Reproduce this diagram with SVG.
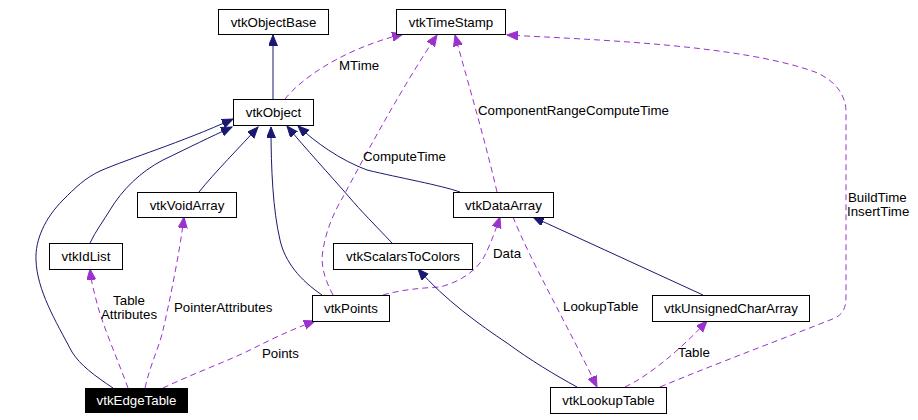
<svg xmlns="http://www.w3.org/2000/svg" width="918" height="420" viewBox="0 0 918 420">
<style>
  .box { fill: #ffffff; stroke: #000000; stroke-width: 1; }
  .lbl { font-family: "Liberation Sans", Arial, sans-serif; font-size: 13.3px; fill: #000000; text-anchor: middle; }
  .elbl { font-family: "Liberation Sans", Arial, sans-serif; font-size: 13.3px; fill: #000000; }
  .inh { fill: none; stroke: #191970; stroke-width: 1; marker-end: url(#an); }
  .use { fill: none; stroke: #9a32cd; stroke-width: 1; stroke-dasharray: 6,4; marker-end: url(#ap); }
</style>
<defs>
  <marker id="an" markerUnits="userSpaceOnUse" markerWidth="12" markerHeight="10" refX="11" refY="4.5" orient="auto">
    <path d="M0,0 L11,4.5 L0,9 z" fill="#191970" stroke="#191970" stroke-width="1"/>
  </marker>
  <marker id="ap" markerUnits="userSpaceOnUse" markerWidth="12" markerHeight="10" refX="11" refY="4.5" orient="auto">
    <path d="M0,0 L11,4.5 L0,9 z" fill="#9a32cd" stroke="#9a32cd" stroke-width="1"/>
  </marker>
</defs>
<rect width="918" height="420" fill="#ffffff"/>
<g id="connectors">
  <path class="inh" d="M273,99 L273,35"/>
  <path class="use" d="M285,99 C300,80 340,50 403,34"/>
  <path class="inh" d="M113,388 C95,376 80,365 72,352 C55,320 37,290 36,260 C35,240 45,218 63,200 C75,188 85,178 100,171 C130,158 180,143 233,119"/>
  <path class="inh" d="M90,243 C95,232 104,220 110,210 C122,190 140,172 163,160 C190,147 210,137 232,127"/>
  <path class="inh" d="M199,192 C215,172 240,147 258,127"/>
  <path class="inh" d="M322,295 C300,280 285,262 280,240 C273,210 271,170 271,127"/>
  <path class="inh" d="M392,243 C375,225 360,210 350,198 C330,175 305,148 287,126"/>
  <path class="inh" d="M460,192 C440,185 400,178 367,170 C340,160 315,142 298,126"/>
  <path class="use" d="M333,295 C325,280 320,265 323,250 C326,230 335,210 343,197 C360,165 400,90 437,35"/>
  <path class="use" d="M497,192 C485,140 470,90 455,35"/>
  <path class="use" d="M660,387 C720,362 780,340 835,318 C845,313 846,305 846,295 L846,112 C846,95 835,80 815,72 C740,45 600,40 507,35"/>
  <path class="use" d="M128,388 C118,360 100,320 95,295 C92,285 91,278 90,269"/>
  <path class="use" d="M145,388 C150,365 160,345 163,330 C170,300 180,250 184,217"/>
  <path class="use" d="M163,388 C190,375 230,360 250,350 C270,340 290,330 315,321"/>
  <path class="use" d="M383,295 C400,290 420,288 440,287 C460,282 478,270 485,255 C490,245 495,232 500,217"/>
  <path class="inh" d="M577,387 C555,375 530,360 507,343 C480,325 445,300 418,269"/>
  <path class="inh" d="M703,295 L533,217"/>
  <path class="use" d="M513,217 C530,260 570,330 597,387"/>
  <path class="use" d="M625,387 C650,375 680,350 707,321"/>
  <text class="elbl" x="339" y="70">MTime</text>
  <text class="elbl" x="363" y="161">ComputeTime</text>
  <text class="elbl" x="478" y="115">ComponentRangeComputeTime</text>
  <text class="elbl" x="848" y="202">BuildTime</text>
  <text class="elbl" x="847" y="216">InsertTime</text>
  <text class="lbl" x="129" y="305">Table</text>
  <text class="lbl" x="129" y="319">Attributes</text>
  <text class="elbl" x="174" y="312">PointerAttributes</text>
  <text class="elbl" x="262" y="358">Points</text>
  <text class="elbl" x="493" y="258">Data</text>
  <text class="elbl" x="563" y="311">LookupTable</text>
  <text class="elbl" x="678" y="357">Table</text>
</g>
<g id="vtkObjectBase"><rect class="box" x="218.5" y="9.5" width="110" height="25"/><text class="lbl" x="273.5" y="26.5">vtkObjectBase</text></g>
<g id="vtkTimeStamp"><rect class="box" x="396.5" y="9.5" width="109" height="25"/><text class="lbl" x="451" y="26.5">vtkTimeStamp</text></g>
<g id="vtkObject"><rect class="box" x="233.5" y="99.5" width="80" height="26"/><text class="lbl" x="273.5" y="117">vtkObject</text></g>
<g id="vtkVoidArray"><rect class="box" x="137.5" y="192.5" width="99" height="25"/><text class="lbl" x="187" y="209.5">vtkVoidArray</text></g>
<g id="vtkDataArray"><rect class="box" x="453.5" y="192.5" width="100" height="25"/><text class="lbl" x="503.5" y="209.5">vtkDataArray</text></g>
<g id="vtkIdList"><rect class="box" x="49.5" y="243.5" width="73" height="26"/><text class="lbl" x="86" y="261">vtkIdList</text></g>
<g id="vtkScalarsToColors"><rect class="box" x="333.5" y="243.5" width="139" height="26"/><text class="lbl" x="403" y="261">vtkScalarsToColors</text></g>
<g id="vtkPoints"><rect class="box" x="312.5" y="295.5" width="77" height="26"/><text class="lbl" x="351" y="313">vtkPoints</text></g>
<g id="vtkUnsignedCharArray"><rect class="box" x="652.5" y="295.5" width="157" height="26"/><text class="lbl" x="731" y="313">vtkUnsignedCharArray</text></g>
<g id="vtkEdgeTable"><rect x="85" y="388" width="103" height="25" fill="#000000"/><text class="lbl" x="136.5" y="405" style="fill:#ffffff">vtkEdgeTable</text></g>
<g id="vtkLookupTable"><rect class="box" x="550.5" y="387.5" width="116" height="26"/><text class="lbl" x="608.5" y="405">vtkLookupTable</text></g>
</svg>
